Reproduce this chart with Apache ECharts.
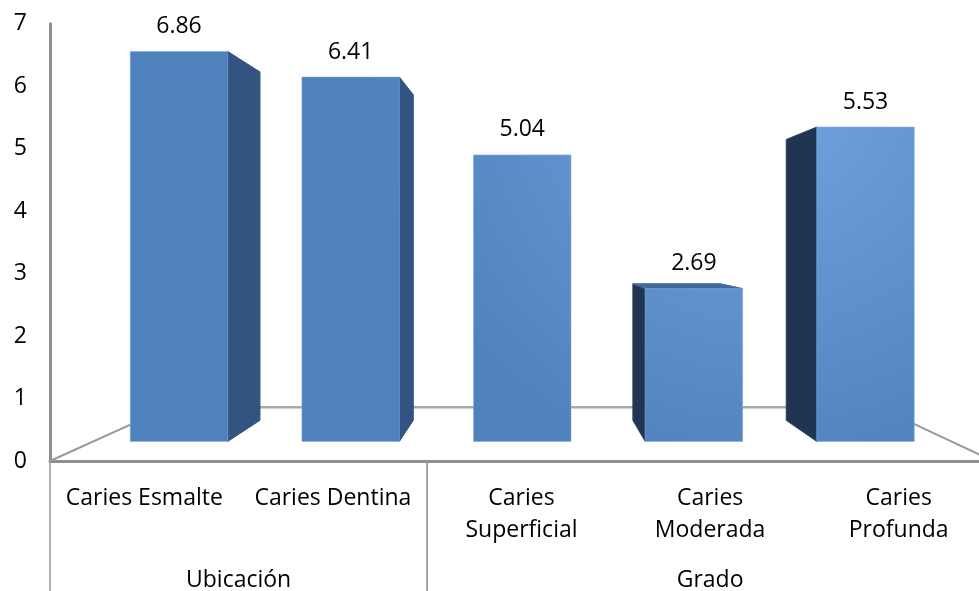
<!DOCTYPE html>
<html>
<head>
<meta charset="utf-8">
<style>html,body{margin:0;padding:0;background:#fff}#chart{width:979px;height:591px}</style>
<script src="https://cdn.jsdelivr.net/npm/echarts@6/dist/echarts.min.js"></script>
</head>
<body>
<div id="chart"></div>
<script>
// Caries values by lesion, grouped under location and grade
const categories = ['Caries Esmalte', 'Caries Dentina', 'Caries\nSuperficial', 'Caries\nModerada', 'Caries\nProfunda'];
const values = [6.86, 6.41, 5.04, 2.69, 5.53];
const groupNames = ['Ubicación', 'Grado'];
const groupStarts = [0, 2];
const groupEnds = [2, 5];
const yTicks = [0, 1, 2, 3, 4, 5, 6, 7];

// One-point perspective used for the pseudo 3D look
const VP = [530, 243.6];
const BAR_FRONT = 0.91;   // depth of the bar front faces
const BAR_BACK = 0.813;   // depth of the bar back faces
const FLOOR_BACK = 0.753; // depth of the back edge of the floor
const BAR_HALF = 0.284;   // half bar width, as a share of a category band
const FONT = '"Open Sans"';
const FONT_SIZE = 23;
const AXIS_GREY = '#8e8e8e';

const project = (p, s) => [VP[0] + s * (p[0] - VP[0]), VP[1] + s * (p[1] - VP[1])];

const frontFill = {
  type: 'radial', x: 770, y: 90, r: 400, global: true,
  colorStops: [{ offset: 0, color: '#73a4e2' }, { offset: 1, color: '#4f81bd' }]
};

function renderBar(params, api) {
  const i = api.value(0), v = api.value(1);
  const half = api.size([1, 0])[0] * BAR_HALF;
  const top = api.coord([i, v]), base = api.coord([i, 0]);
  const corner = (x, y, s) => project([x, y], s);
  const xl = top[0] - half, xr = top[0] + half;
  const fTL = corner(xl, top[1], BAR_FRONT), fTR = corner(xr, top[1], BAR_FRONT);
  const fBL = corner(xl, base[1], BAR_FRONT), fBR = corner(xr, base[1], BAR_FRONT);
  const bTL = corner(xl, top[1], BAR_BACK), bTR = corner(xr, top[1], BAR_BACK);
  const bBL = corner(xl, base[1], BAR_BACK), bBR = corner(xr, base[1], BAR_BACK);
  const children = [];
  const face = (pts, fill, stroke) => children.push({
    type: 'polygon', shape: { points: pts },
    style: { fill, stroke: stroke || fill, lineWidth: 1 }
  });
  if (fTR[0] < VP[0]) face([fTR, bTR, bBR, fBR], '#335480');
  if (fTL[0] > VP[0]) face([fTL, bTL, bBL, fBL], '#1f3550', '#2a4666');
  if (fTL[1] > VP[1]) face([fTL, fTR, bTR, bTL], '#416a9a');
  face([fTL, fTR, fBR, fBL], frontFill, 'rgba(130,170,220,0.55)');
  children.push({
    type: 'text',
    style: {
      text: v.toFixed(2), x: (fTL[0] + fTR[0]) / 2, y: fTL[1] - 25,
      align: 'center', verticalAlign: 'middle',
      fill: '#000', font: FONT_SIZE + 'px ' + FONT
    }
  });
  return { type: 'group', children };
}

function renderFloor(params, api) {
  const fl = api.coord([0, 0]), fr = api.coord([5, 0]);
  const bl = project(fl, FLOOR_BACK), br = project(fr, FLOOR_BACK);
  const seg = (a, b, color, w) => ({
    type: 'line', shape: { x1: a[0], y1: a[1], x2: b[0], y2: b[1] },
    style: { stroke: color, lineWidth: w }
  });
  return {
    type: 'group',
    children: [seg(fl, bl, '#999', 2), seg(bl, br, '#a9a9a9', 2.5), seg(br, fr, '#999', 2)]
  };
}

function renderGroup(params, api) {
  const a = api.coord([api.value(0), 0]), b = api.coord([api.value(1), 0]);
  return {
    type: 'group',
    children: [
      { type: 'line', shape: { x1: a[0], y1: a[1], x2: a[0], y2: 591 }, style: { stroke: '#999', lineWidth: 1.5 } },
      { type: 'line', shape: { x1: b[0], y1: b[1], x2: b[0], y2: 591 }, style: { stroke: '#999', lineWidth: 1.5 } },
      {
        type: 'text',
        style: {
          text: groupNames[params.dataIndex], x: (a[0] + b[0]) / 2, y: a[1] + 119,
          align: 'center', verticalAlign: 'middle', fill: '#000', font: FONT_SIZE + 'px ' + FONT
        }
      }
    ]
  };
}

const chart = echarts.init(document.getElementById('chart'), null, { renderer: 'canvas' });
chart.setOption({
  animation: false,
  backgroundColor: '#fff',
  grid: { left: 50, top: 23.7, width: 943, height: 437.3, outerBoundsMode: 'none' },
  xAxis: [
    {
      type: 'category', data: categories,
      axisLine: { lineStyle: { color: AXIS_GREY, width: 3 } },
      axisTick: { show: false },
      axisLabel: {
        interval: 0, margin: 21, color: '#000', fontFamily: FONT, fontSize: FONT_SIZE,
        lineHeight: 32, verticalAlign: 'top', hideOverlap: false
      }
    },
    { type: 'value', min: 0, max: 5, show: false }
  ],
  yAxis: {
    type: 'value', min: 0, max: 7, interval: 1,
    splitLine: { show: false },
    axisLine: { show: true, lineStyle: { color: AXIS_GREY, width: 3 } },
    axisTick: { show: false },
    axisLabel: {
      margin: 23, color: '#000', fontFamily: FONT, fontSize: FONT_SIZE,
      customValues: yTicks, padding: [4, 0, 0, 0]
    }
  },
  series: [
    {
      type: 'custom', name: 'Piso', xAxisIndex: 1, z: 1, silent: true,
      data: [[0, 5]], renderItem: renderFloor, clip: false
    },
    {
      type: 'custom', name: 'Grupos', xAxisIndex: 1, z: 1, silent: true,
      data: groupStarts.map((s, i) => [s, groupEnds[i]]), renderItem: renderGroup, clip: false
    },
    {
      type: 'custom', name: 'Caries', xAxisIndex: 0, z: 2, silent: true,
      data: values.map((v, i) => [i, v]), encode: { x: 0, y: 1 },
      renderItem: renderBar, clip: false
    }
  ]
});
</script>
</body>
</html>
